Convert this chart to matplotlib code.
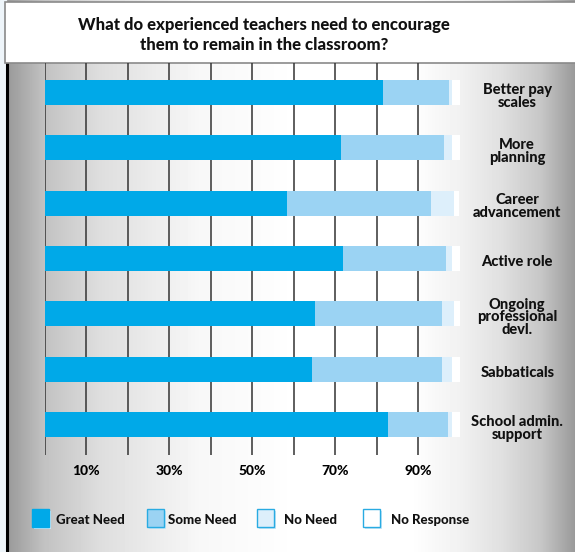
import numpy as np
import matplotlib.pyplot as plt
from matplotlib.patches import Rectangle

# Survey answers, percent of experienced teachers
categories = ['Better pay\nscales', 'More\nplanning', 'Career\nadvancement', 'Active role',
              'Ongoing\nprofessional\ndevl.', 'Sabbaticals', 'School admin.\nsupport']
great_need = [81.6, 71.4, 58.4, 72.0, 65.2, 64.5, 82.8]
some_need = [15.9, 24.9, 34.7, 24.7, 30.6, 31.3, 14.4]
no_need = [0.6, 1.8, 5.6, 1.4, 2.9, 2.3, 0.9]
no_response = [1.9, 1.9, 1.3, 1.9, 1.3, 1.9, 1.9]
series_names = ['Great Need', 'Some Need', 'No Need', 'No Response']
tick_values = [10, 30, 50, 70, 90]

colors = ['#00a9e8', '#9bd3f3', '#ddeffb', '#ffffff']
FONT = 'Lato'
WEIGHT = 900
W, H = 575, 552

fig = plt.figure(figsize=(W / 100, H / 100), dpi=100)

# Background: grey side shading fading to white in the middle
bg = fig.add_axes([0, 0, 1, 1])
bg.set_xlim(0, W)
bg.set_ylim(H, 0)
bg.axis('off')
xs = np.arange(W)
shade = np.interp(xs, [7, 44, 100, 200, 300, 410, 460, 500, 540, 575],
                  [0.60, 0.76, 0.87, 0.97, 1.0, 1.0, 0.945, 0.88, 0.78, 0.60])
grad = np.tile(shade, (H, 1))
bg.imshow(grad, cmap='gray', vmin=0, vmax=1, extent=[0, W, H, 0], aspect='auto', zorder=0)
bg.add_patch(Rectangle((0, 0), 6, H, color='#eef5fa', zorder=1))
bg.plot([6.5, 6.5], [63, H], color='black', lw=2.2, zorder=2)

# Title box
bg.add_patch(Rectangle((5, 2), W, 61, facecolor='white', edgecolor='#8a8a8a', lw=1.2, zorder=3))
bg.text(264, 35, 'What do experienced teachers need to encourage\nthem to remain in the classroom?',
        ha='center', va='center', fontsize=12, fontweight=WEIGHT, family=FONT,
        linespacing=1.35, color='#111111', zorder=4)

# Main bar area
ax = fig.add_axes([44.5 / W, 1 - 455 / H, 415 / W, 392 / H])
ax.patch.set_alpha(0)
for s in ax.spines.values():
    s.set_visible(False)

y = np.arange(len(categories))
left = np.zeros(len(categories))
for vals, c in zip([great_need, some_need, no_need, no_response], colors):
    ax.barh(y, vals, left=left, height=0.452, color=c, zorder=3)
    left += np.array(vals)

for gx in range(0, 100, 10):
    ax.axvline(gx, color='#333333', lw=1.1, zorder=1)

ax.set_xlim(0, 100)
ax.set_ylim(6.55, -0.533)
ax.set_yticks([])
ax.set_xticks(tick_values)
ax.set_xticklabels([f'{v}%' for v in tick_values], fontsize=10, fontweight=WEIGHT, family=FONT)
ax.tick_params(axis='x', length=0, pad=7)

# Category labels on the right
for yi, lab in zip(y, categories):
    ax.text(113.9, yi + 0.065, lab, ha='center', va='center', fontsize=10.5, fontweight=WEIGHT,
            family=FONT, linespacing=0.9, color='#111111', transform=ax.transData, clip_on=False)

# Legend with shadowed swatches
swatch_x = [32, 147, 257, 363]
text_x = [56, 168, 284, 391]
for sx, tx, name, c in zip(swatch_x, text_x, series_names, colors):
    bg.add_patch(Rectangle((sx + 2, 511), 17, 18, facecolor='#c5e6f7', edgecolor='none', zorder=3))
    edge = c if c == colors[0] else '#29abe2'
    bg.add_patch(Rectangle((sx, 509), 17, 18, facecolor=c, edgecolor=edge, lw=1.0, zorder=4))
    bg.text(tx, 520, name, ha='left', va='center', fontsize=9.5, fontweight=WEIGHT,
            family=FONT, color='#111111', zorder=4)

fig.savefig('out.png', dpi=100)
